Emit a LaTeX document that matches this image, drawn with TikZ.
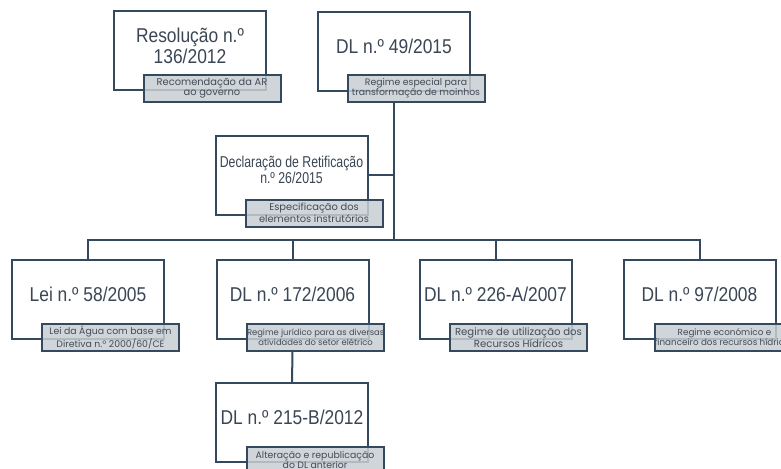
\documentclass[tikz,border=0pt]{standalone}
\usepackage{fontspec}
\usepackage{tikz}
\usetikzlibrary{calc}

\newfontfamily\docfont[FakeStretch=0.87]{Liberation Sans}
\newfontfamily\declfont[FakeStretch=0.78]{Liberation Sans}
\newfontfamily\notefont{Poppins}

\definecolor{boxline}{RGB}{52,73,94}
\definecolor{notefill}{RGB}{200,206,211}
\definecolor{doctext}{RGB}{58,70,84}
\definecolor{notetext}{RGB}{66,76,88}

\tikzset{
  docbox/.style={draw=boxline, line width=1.5pt, fill=white, minimum width=114pt, minimum height=59.25pt, inner sep=0pt},
  doclabel/.style={text=doctext, align=center, inner sep=0pt, font=\docfont\fontsize{15}{15.75}\selectfont},
  decllabel/.style={text=doctext, align=center, inner sep=0pt, font=\declfont\fontsize{11.8}{12.2}\selectfont},
  notebox/.style={draw=boxline, line width=1.5pt, fill=notefill, fill opacity=0.85, text opacity=1, text=notetext,
    minimum width=102.75pt, minimum height=20.25pt, inner sep=0pt, align=center, anchor=north west,
    font=\notefont\fontsize{7}{7.6}\selectfont},
  link/.style={draw=boxline, line width=1.5pt}
}

\begin{document}
\begin{tikzpicture}[x=0.75pt,y=0.75pt,yscale=-1,xscale=1]
\useasboundingbox (0,0) rectangle (781,468);
\clip (0,0) rectangle (781,468);

% Boxes
\node[docbox] (res) at (190,50.5) {};
\node[docbox] (dl49) at (394,51) {};
\node[docbox] (decl) at (291.5,175) {};
\node[docbox] (lei) at (88,299.7) {};
\node[docbox] (dl172) at (292.5,299.7) {};
\node[docbox] (dl226) at (495.5,299.7) {};
\node[docbox] (dl97) at (699.5,299.7) {};
\node[docbox] (dl215) at (292,422.8) {};

% Box texts
\node[doclabel] (restxt) at ($(res.center)+(0,-5)$) {Resolução n.º\\136/2012};
\node[doclabel] (dl49txt) at ($(dl49.center)+(0,-5)$) {DL n.º 49/2015};
\node[decllabel] (decltxt) at ($(decl.center)+(0,-5)$) {Declaração de Retificação\\n.º 26/2015};
\node[doclabel] (leitxt) at ($(lei.center)+(0,-5)$) {Lei n.º 58/2005};
\node[doclabel] (dl172txt) at ($(dl172.center)+(0,-5)$) {DL n.º 172/2006};
\node[doclabel] (dl226txt) at ($(dl226.center)+(0,-5)$) {DL n.º 226-A/2007};
\node[doclabel] (dl97txt) at ($(dl97.center)+(0,-5)$) {DL n.º 97/2008};
\node[doclabel] (dl215txt) at ($(dl215.center)+(0,-5)$) {DL n.º 215-B/2012};

% Notes
\node[notebox, font=\notefont\fontsize{7.4}{7.6}\selectfont] (resnote) at ($(res.south west)+(29.5,-17.5)$) {Recomendação da AR\\ao governo};
\node[notebox] (dl49note) at ($(dl49.south west)+(29.5,-17.5)$) {Regime especial para\\transformação de moinhos};
\node[notebox, font=\notefont\fontsize{7.4}{7.6}\selectfont] (declnote) at ($(decl.south west)+(30,-17)$) {Especificação dos\\elementos instrutórios};
\node[notebox] (leinote) at ($(lei.south west)+(30,-17.5)$) {Lei da Água com base em\\Diretiva n.º 2000/60/CE};
\node[notebox, font=\notefont\fontsize{6.3}{7.4}\selectfont] (dl172note) at ($(dl172.south west)+(30.5,-17.5)$) {Regime jurídico para as diversas\\atividades do setor elétrico};
\node[notebox, font=\notefont\fontsize{7.6}{7.6}\selectfont] (dl226note) at ($(dl226.south west)+(30.5,-17.5)$) {Regime de utilização dos\\Recursos Hídricos};
\node[notebox, font=\notefont\fontsize{6.6}{7.4}\selectfont] (dl97note) at ($(dl97.south west)+(31,-17.5)$) {Regime económico e\\financeiro dos recursos hídricos};
\node[notebox] (dl215note) at ($(dl215.south west)+(30.5,-17.5)$) {Alteração e republicação\\do DL anterior};

% Connectors
\coordinate (bus) at (394,240);
\draw[link] (dl49note.south -| dl49.south) -- (bus);
\draw[link] (decl.east) -- (decl.east -| bus);
\draw[link] (lei.north) |- (bus) -| (dl97.north);
\draw[link] (dl172.north) -- (dl172.north |- bus);
\draw[link] (dl226.north) -- (dl226.north |- bus);
\draw[link] (dl172note.south -| dl172.south) -- (dl215.north);

\end{tikzpicture}
\end{document}
